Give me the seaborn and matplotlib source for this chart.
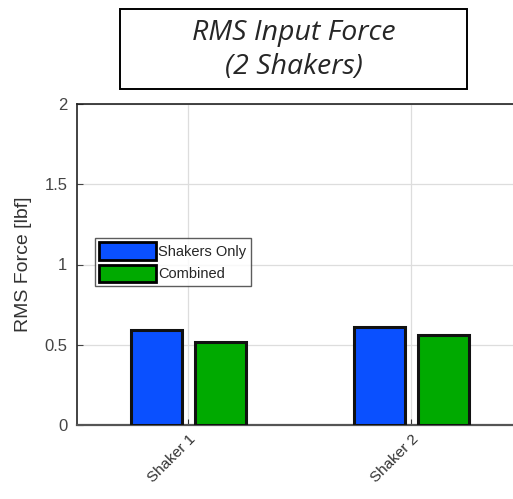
import matplotlib
matplotlib.use("Agg")
import matplotlib.pyplot as plt
import seaborn as sns
import pandas as pd
from matplotlib.patches import Patch, Rectangle

# RMS input force per shaker, for each test configuration
shakers = ["Shaker 1", "Shaker 2"]
shakers_only = [0.59, 0.61]
combined = [0.52, 0.56]
series_names = ["Shakers Only", "Combined"]
series_colors = ["#0A50FF", "#00AA00"]
y_ticks = [0, 0.5, 1, 1.5, 2]
y_tick_labels = ["0", "0.5", "1", "1.5", "2"]

df = pd.DataFrame({
    "Shaker": shakers * 2,
    "Force": shakers_only + combined,
    "Series": [series_names[0]] * len(shakers) + [series_names[1]] * len(shakers),
})

sns.set_theme(style="white")
plt.rcParams["font.family"] = ["Liberation Sans", "DejaVu Sans"]

W, H = 513, 499
fig = plt.figure(figsize=(W / 100, H / 100), dpi=100)
ax = fig.add_axes([77 / W, 1 - 425 / H, 446 / W, 321 / H])

sns.barplot(data=df, x="Shaker", y="Force", hue="Series",
            palette=series_colors, saturation=1, width=0.574, gap=0.19,
            edgecolor="#111111", linewidth=2.2, ax=ax, legend=False, zorder=3)

ax.set_xlim(-0.5, 1.5)
ax.set_ylim(0, 2)
ax.set_yticks(y_ticks)
ax.set_yticklabels(y_tick_labels)
ax.grid(True, color="#dddddd", linewidth=0.9, zorder=0)
ax.set_axisbelow(True)

ax.set_xlabel("")
ax.set_ylabel("RMS Force [lbf]", fontsize=14, color="#333333", labelpad=9)

ax.tick_params(axis="y", direction="in", length=4, width=0.8, labelsize=12,
               colors="#444444", left=True, pad=7)
ax.tick_params(axis="x", direction="in", length=4, width=0.8, labelsize=11,
               colors="#333333", bottom=True, pad=5)
for lbl in ax.get_xticklabels():
    lbl.set_rotation(45)
    lbl.set_ha("right")
    lbl.set_rotation_mode("anchor")

for side in ["top", "left"]:
    ax.spines[side].set_color("#222222")
    ax.spines[side].set_linewidth(1.2)
ax.spines["bottom"].set_color("#555555")
ax.spines["bottom"].set_linewidth(1.6)
ax.spines["right"].set_visible(False)

handles = [Patch(facecolor=c, edgecolor="black", linewidth=2.0) for c in series_colors]
leg = fig.legend(handles, series_names, loc="upper left",
                 bbox_to_anchor=(95 / W, 1 - 238 / H),
                 fontsize=10.5, frameon=True, fancybox=False, edgecolor="#333333",
                 handlelength=3.9, handleheight=1.45, handletextpad=0.15,
                 labelspacing=0.35, borderpad=0.3, borderaxespad=0)
leg.get_frame().set_linewidth(1.0)

# Title panel
fig.patches.append(Rectangle((120 / W, 1 - 89 / H), 347 / W, 80 / H,
                             transform=fig.transFigure, facecolor="white",
                             edgecolor="black", linewidth=1.4))
title_font = dict(ha="center", va="center", fontsize=20.5, style="italic",
                  family=["Open Sans", "DejaVu Sans"])
fig.text(293.5 / W, 1 - 33 / H, "RMS Input Force", **title_font)
fig.text(293.5 / W, 1 - 67 / H, "(2 Shakers)", **title_font)

fig.savefig("out.png", dpi=100)
